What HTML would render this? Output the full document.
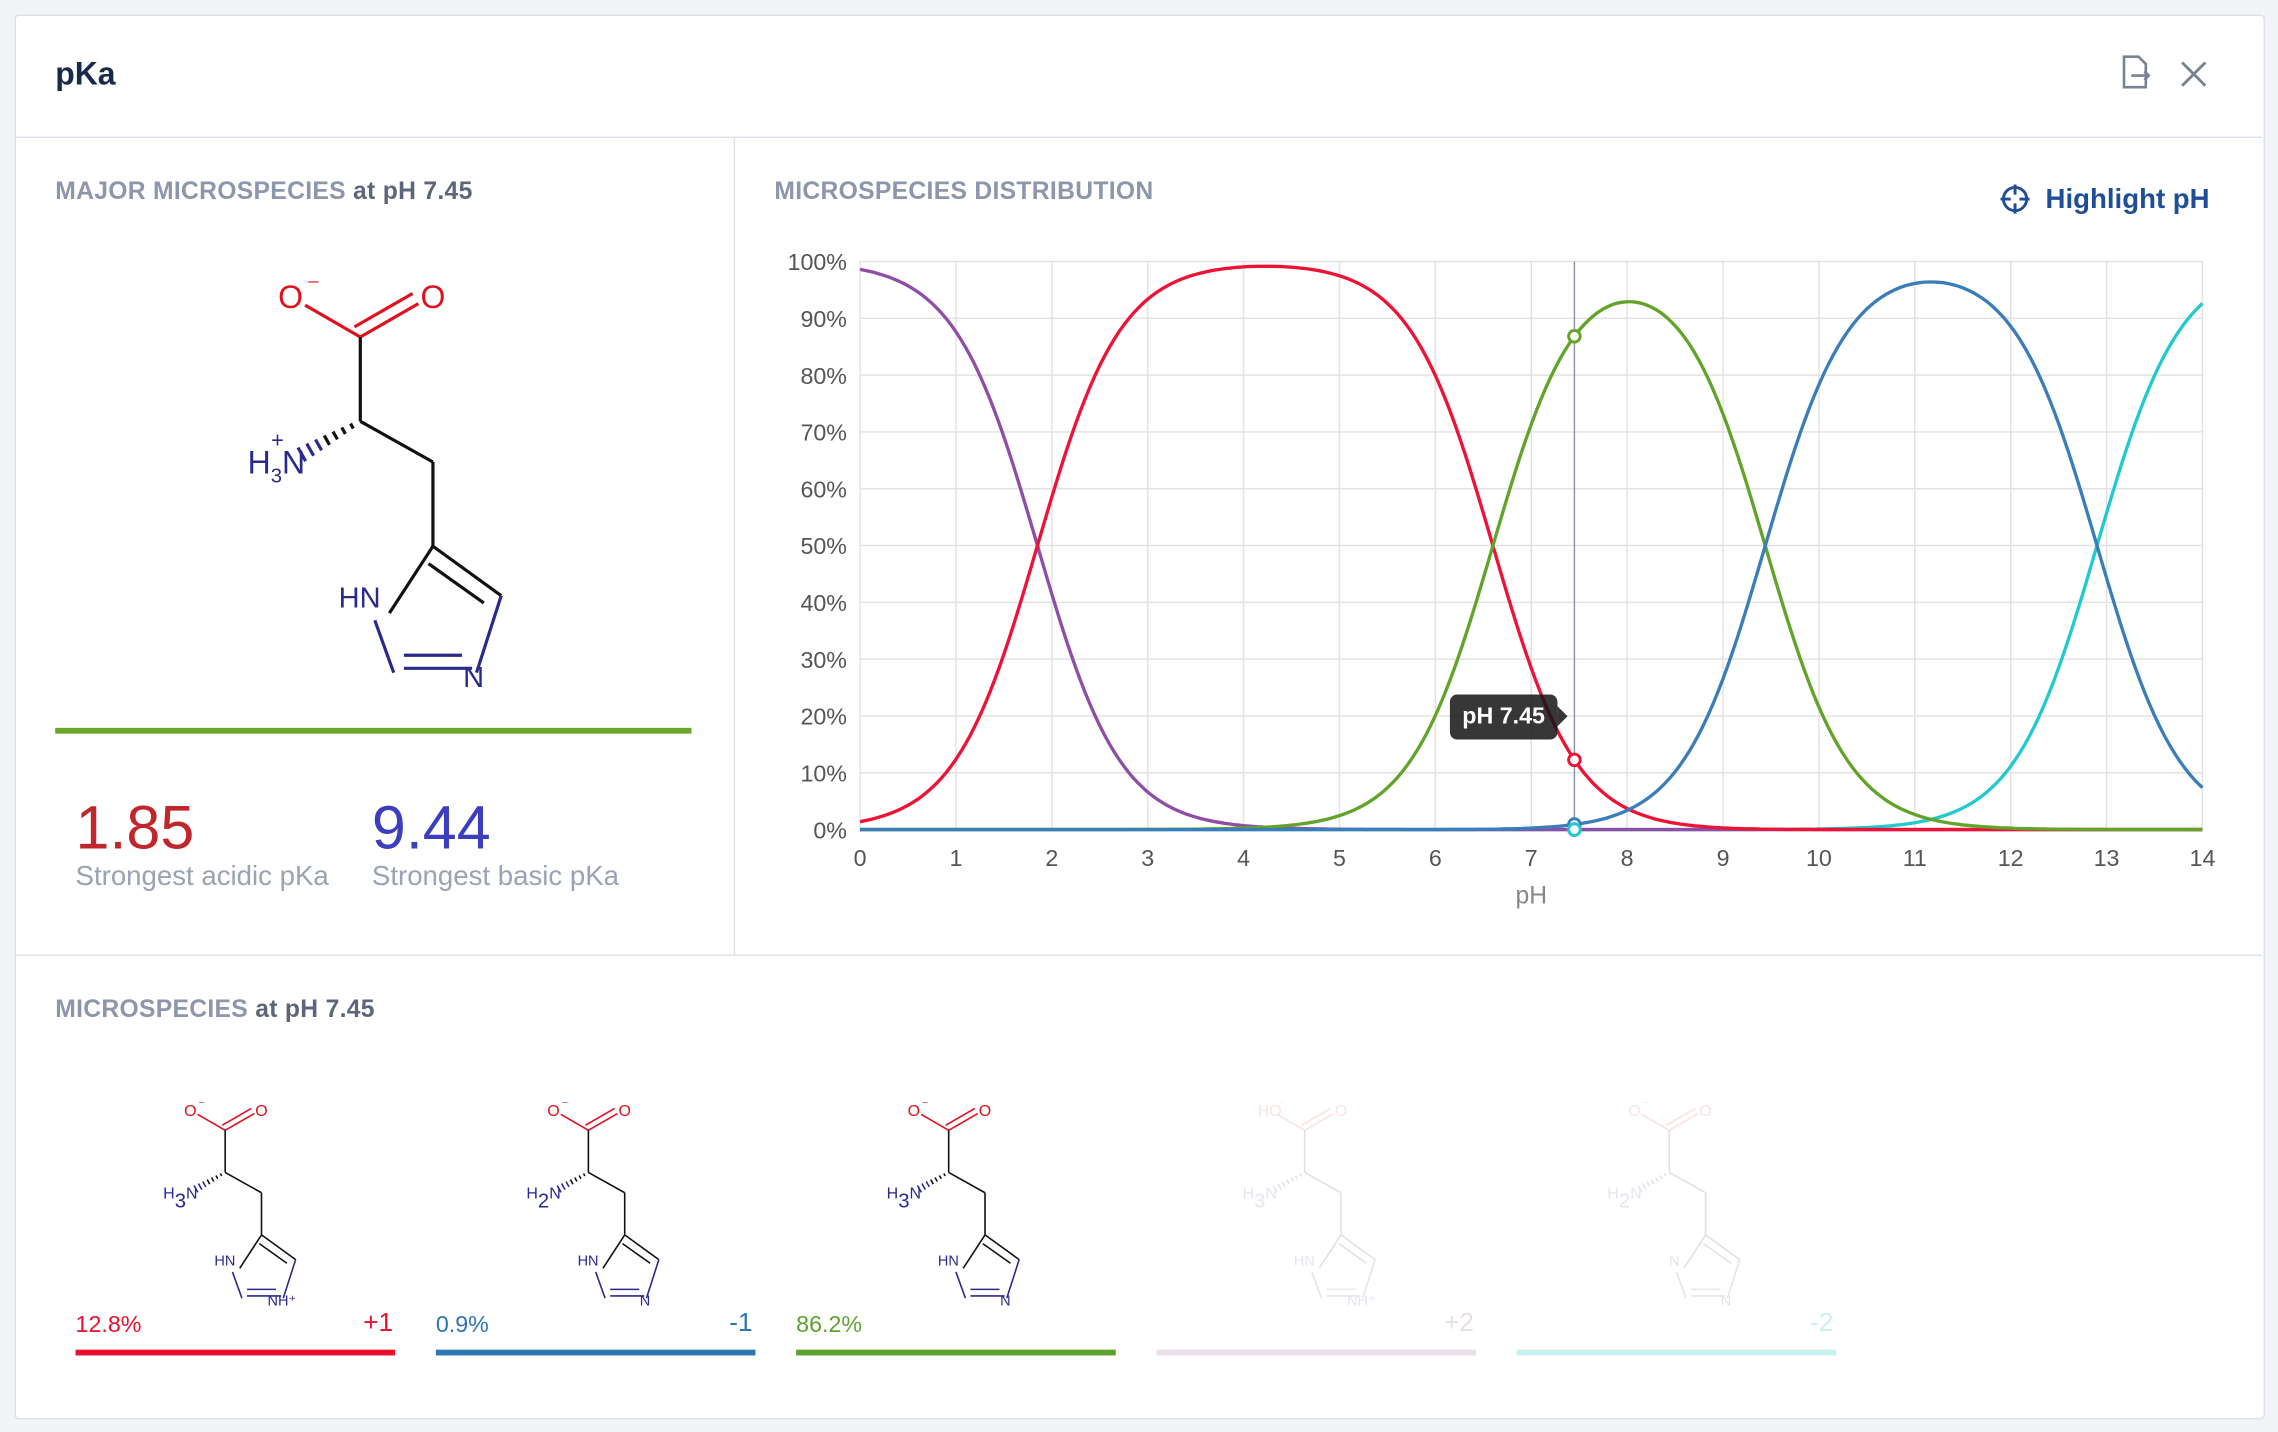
<!DOCTYPE html>
<html><head><meta charset="utf-8">
<style>
html,body{margin:0;padding:0;background:#f3f4f7;}
body{width:2278px;height:1432px;overflow:hidden;font-family:"Liberation Sans",sans-serif;}
#root{position:absolute;left:0;top:0;width:1568px;height:986px;transform:scale(1.45281);transform-origin:0 0;}
.card{position:absolute;left:10px;top:10px;width:1547px;height:965px;background:#fff;border:1px solid #dde1e8;border-radius:3px;}
.abs{position:absolute;white-space:nowrap;}
.sec{font-size:17px;font-weight:bold;color:#8d96aa;letter-spacing:0.2px}
.sec b{color:#5d6679}
</style></head><body><div id="root">
<div class="card"></div>
<div class="abs" style="left:38px;top:38px;font-size:22px;font-weight:bold;color:#1a2b4a">pKa</div>
<svg class="abs" style="left:1455px;top:36px" width="70" height="30">
<path d="M7 3h10l5 5v16H7z" fill="none" stroke="#7a8292" stroke-width="1.8"/><path d="M12 16h12m-3-3l3 3-3 3" fill="none" stroke="#7a8292" stroke-width="1.8"/>
<path d="M47 7l16 16M63 7L47 23" stroke="#7a8292" stroke-width="2"/></svg>
<div class="abs" style="left:11px;top:94px;width:1546px;height:1px;background:#dde1e8"></div>
<div class="abs" style="left:505px;top:94px;width:1px;height:563px;background:#dde1e8"></div>
<div class="abs" style="left:11px;top:657px;width:1546px;height:1px;background:#dde1e8"></div>
<div class="abs sec" style="left:38px;top:122px">MAJOR MICROSPECIES <b>at pH 7.45</b></div>
<div class="abs sec" style="left:533px;top:122px">MICROSPECIES DISTRIBUTION</div>
<div class="abs" style="left:1408px;top:127px;font-size:19px;font-weight:bold;color:#1f4e96">Highlight pH</div>
<svg class="abs" style="left:1377px;top:127px" width="22" height="22"><circle cx="10" cy="10" r="8" fill="none" stroke="#1f4e96" stroke-width="2"/><path d="M10 0v7M10 13v7M0 10h7M13 10h7" stroke="#1f4e96" stroke-width="2"/></svg>
<div class="abs" style="left:38px;top:501px;width:438px;height:4px;background:#6aa629"></div>
<div class="abs" style="left:52px;top:546px;font-size:42px;color:#c0272d">1.85</div>
<div class="abs" style="left:256px;top:546px;font-size:42px;color:#3b3fbf">9.44</div>
<div class="abs" style="left:52px;top:593px;font-size:19px;color:#9aa2b3">Strongest acidic pKa</div>
<div class="abs" style="left:256px;top:593px;font-size:19px;color:#9aa2b3">Strongest basic pKa</div>
<div class="abs sec" style="left:38px;top:685px">MICROSPECIES <b>at pH 7.45</b></div>
<svg id="main" class="abs" style="left:0;top:0" width="1568" height="986"></svg>
<div class="abs" style="left:52px;top:904px;font-size:16px;color:#e8102e">12.8%</div><div class="abs" style="left:250px;top:900px;font-size:18px;color:#e8102e">+1</div>
<div class="abs" style="left:300px;top:904px;font-size:16px;color:#2e75b6">0.9%</div><div class="abs" style="left:502px;top:900px;font-size:18px;color:#2e75b6">-1</div>
<div class="abs" style="left:548px;top:904px;font-size:16px;color:#5fa12e">86.2%</div>
<div class="abs" style="left:994px;top:900px;font-size:18px;color:#eadde6">+2</div>
<div class="abs" style="left:1246px;top:900px;font-size:18px;color:#c8f0f0">-2</div>
<div class="abs" style="left:52px;top:929px;width:220px;height:4px;background:#e8102e"></div>
<div class="abs" style="left:300px;top:929px;width:220px;height:4px;background:#2e75b6"></div>
<div class="abs" style="left:548px;top:929px;width:220px;height:4px;background:#5fa12e"></div>
<div class="abs" style="left:796px;top:929px;width:220px;height:4px;background:#ecdfe9"></div>
<div class="abs" style="left:1044px;top:929px;width:220px;height:4px;background:#c9f1f1"></div>
<div class="abs" style="left:998px;top:478px;width:74px;height:31px;background:rgba(20,20,20,0.85);border-radius:5px;color:#fff;font-weight:bold;font-size:16px;line-height:31px;text-align:center">pH 7.45</div>
<div class="abs" style="left:1072px;top:486px;width:0;height:0;border-top:7px solid transparent;border-bottom:7px solid transparent;border-left:7px solid rgba(20,20,20,0.85)"></div>
</div>
<script>
const S=document.getElementById('main');let h='';
const X0=592,X1=1516,Y0=571,Y1=180,px=p=>X0+(X1-X0)*p/14,py=v=>Y0-(Y0-Y1)*v;
for(let i=0;i<=14;i++){h+=`<line x1="${px(i)}" y1="${Y1}" x2="${px(i)}" y2="${Y0}" stroke="#e2e2e2"/>`;
h+=`<text x="${px(i)}" y="596" font-size="16" fill="#555" text-anchor="middle">${i}</text>`;}
for(let i=0;i<=10;i++){h+=`<line x1="${X0}" y1="${py(i/10)}" x2="${X1}" y2="${py(i/10)}" stroke="#e2e2e2"/>`;
h+=`<text x="583" y="${py(i/10)+6}" font-size="16" fill="#555" text-anchor="end">${i*10}%</text>`;}
h+=`<text x="1054" y="622" font-size="17" fill="#888" text-anchor="middle">pH</text>`;
const pk=[1.85,6.6,9.44,12.9];
function fr(p){let l=[0],s=0;for(let i=0;i<4;i++){s+=pk[i];l.push((i+1)*p-s);}const m=Math.max(...l);const e=l.map(v=>Math.pow(10,v-m));const t=e.reduce((a,b)=>a+b);return e.map(v=>v/t);}
const cols=['#8e4ea6','#ee1236','#62a32a','#3a7db8','#22c9d1'];
[4,0,1,2,3].forEach(k=>{let d='';for(let p=0;p<=14.001;p+=0.05){d+=(p?'L':'M')+px(p).toFixed(1)+','+py(fr(p)[k]).toFixed(1);}
h+=`<path d="${d}" fill="none" stroke="${cols[k]}" stroke-width="2.3"/>`;});
h+=`<line x1="${px(7.45)}" y1="${Y1}" x2="${px(7.45)}" y2="${Y0}" stroke="#8a93a8" stroke-width="1"/>`;
const f=fr(7.45);[2,1,3,0,4].forEach(k=>{h+=`<circle cx="${px(7.45)}" cy="${py(f[k])}" r="4" fill="#fff" stroke="${cols[k]}" stroke-width="2"/>`;});
function mol(ox,oy,s,op,nL,ring){
 const T=(x,y)=>[ox+x*s,oy+y*s];const red='#e0101e',blue='#2a2a8c',blk='#111';const sw=2.2*s;
 let g=`<g opacity="${op}">`;const L=(a,b,c,d,col)=>{const p=T(a,b),q=T(c,d);g+=`<line x1="${p[0]}" y1="${p[1]}" x2="${q[0]}" y2="${q[1]}" stroke="${col||blk}" stroke-width="${sw}"/>`;};
 const tx=(x,y,t,col,fs,anch)=>{const p=T(x,y);g+=`<text x="${p[0]}" y="${p[1]}" font-size="${fs*s}" fill="${col}" text-anchor="${anch||'middle'}">${t}</text>`;};
 L(0,0,40,-23,red);L(-4,-7,36,-30,red);L(0,0,-38,-22,red);L(0,0,0,58);L(0,58,50,86);L(50,86,50,144);
 L(50,144,97,178);L(47,156,85,183);L(97,178,80,231,blue);L(77,228,30,228,blue);L(70,219,30,219,blue);L(23,231,10,195,blue);L(20,190,50,144);
 for(let i=1;i<=7;i++){const t=i/8;const cx=0+(-46)*t,cy=58+26*t,w=1.5+5*t;L(cx-w*0.45,cy-w*0.8,cx+w*0.45,cy+w*0.8,i>4?blue:blk);}
 tx(-48,-20,ring[0],red,22);tx(-37,-29,'⁻',red,18,'start');tx(50,-20,'O',red,22);
 tx(-38,94,nL,blue,22,'end');tx(14,186,ring[1],blue,20,'end');tx(78,241,ring[2],blue,20);
 return g+'</g>';}
h+=mol(248,232,1,1,'H<tspan font-size="14" dy="6">3</tspan><tspan dy="-6">N</tspan>',['O','HN','N']);
h+=`<text x="191" y="308" font-size="15" fill="#2a2a8c" text-anchor="middle">+</text>`;
const sm=[[155,'H3','NH⁺',1],[405,'H2','N',1],[653,'H3','N',1],[898,'H3','NH⁺',0.12],[1149,'H2','N',0.12]];
sm.forEach((m,i)=>{h+=mol(m[0],778,0.5,m[3],'H<tspan font-size="14" dy="6">'+m[1][1]+'</tspan><tspan dy="-6">N</tspan>',[i==3?'HO':'O',i==4?'N':'HN',m[2]]);});
S.innerHTML=h;
</script>
</body></html>
